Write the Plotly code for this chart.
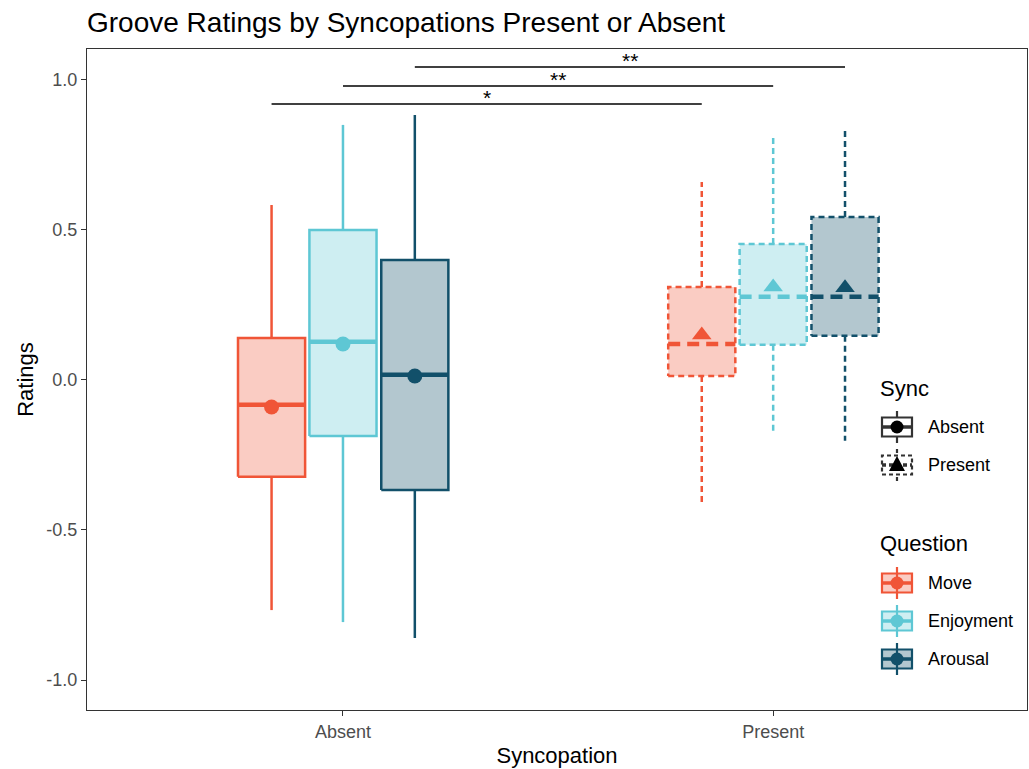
import plotly.graph_objects as go

# ---------------- data ----------------
sync_levels = ["Absent", "Present"]
questions = ["Move", "Enjoyment", "Arousal"]
colors = {"Move": "#F05537", "Enjoyment": "#5EC7D4", "Arousal": "#12506A"}
fills = {"Move": "rgba(240,85,55,0.30)", "Enjoyment": "rgba(94,199,212,0.30)", "Arousal": "rgba(18,80,106,0.32)"}

# stats per sync level, order = questions
lower = {"Absent": [-0.767, -0.807, -0.860], "Present": [-0.417, -0.173, -0.203]}
q1 = {"Absent": [-0.323, -0.187, -0.367], "Present": [0.013, 0.117, 0.147]}
median = {"Absent": [-0.083, 0.127, 0.017], "Present": [0.120, 0.277, 0.277]}
q3 = {"Absent": [0.140, 0.500, 0.400], "Present": [0.310, 0.453, 0.543]}
upper = {"Absent": [0.583, 0.850, 0.883], "Present": [0.660, 0.807, 0.843]}
mean = {"Absent": [-0.090, 0.120, 0.013], "Present": [0.150, 0.310, 0.307]}

# significance brackets: (question, label, y)
sig_question = ["Move", "Enjoyment", "Arousal"]
sig_label = ["*", "**", "**"]
sig_y = [0.920, 0.980, 1.043]

y_ticks = [-1.0, -0.5, 0.0, 0.5, 1.0]
y_ticklabels = ["-1.0", "-0.5", "0.0", "0.5", "1.0"]

# ---------------- layout helpers ----------------
W, H = 1029, 769
ML, MR, MT, MB = 87, 2, 49, 59
PW, PH = W - ML - MR, H - MT - MB

def px(X):
    return (X - ML) / PW

def py(Y):
    return (H - MB - Y) / PH

pos = {"Absent": 1.0, "Present": 2.0}
dodge = {"Move": -0.166, "Enjoyment": 0.0, "Arousal": 0.167}
halfw = 0.078
dash_box = {"Absent": "solid", "Present": "6px,4px"}
dash_med = {"Absent": "solid", "Present": "12px,7px"}
shape_dash = {"Absent": "solid", "Present": "4px,3px"}
symbol = {"Absent": "circle", "Present": "triangle-up"}

fig = go.Figure()

for s in sync_levels:
    for i, q in enumerate(questions):
        cx = pos[s] + dodge[q]
        col = colors[q]
        fig.add_trace(go.Scatter(
            x=[cx, cx, None, cx, cx], y=[q3[s][i], upper[s][i], None, q1[s][i], lower[s][i]],
            mode="lines", line=dict(color=col, width=2.5, dash=dash_box[s]),
            showlegend=False, hoverinfo="skip"))
        fig.add_trace(go.Scatter(
            x=[cx - halfw, cx + halfw, cx + halfw, cx - halfw, cx - halfw],
            y=[q1[s][i], q1[s][i], q3[s][i], q3[s][i], q1[s][i]],
            mode="lines", fill="toself", fillcolor=fills[q],
            line=dict(color=col, width=2.5, dash=dash_box[s]),
            showlegend=False, hoverinfo="skip"))
        fig.add_trace(go.Scatter(
            x=[cx - halfw, cx + halfw], y=[median[s][i], median[s][i]],
            mode="lines", line=dict(color=col, width=4.5, dash=dash_med[s]),
            showlegend=False, hoverinfo="skip"))
        fig.add_trace(go.Scatter(
            x=[cx], y=[mean[s][i]], mode="markers",
            marker=dict(color=col, size=15 if s == "Absent" else 17, symbol=symbol[s]),
            showlegend=False))

# significance brackets
for q, lab, yv in zip(sig_question, sig_label, sig_y):
    x0 = pos["Absent"] + dodge[q]
    x1 = pos["Present"] + dodge[q]
    fig.add_trace(go.Scatter(x=[x0, x1], y=[yv, yv], mode="lines",
                             line=dict(color="black", width=1.5),
                             showlegend=False, hoverinfo="skip"))
    fig.add_annotation(x=(x0 + x1) / 2, y=yv, text=lab, showarrow=False,
                       yanchor="bottom", yshift=-7,
                       font=dict(size=21, color="black", family="Liberation Sans"))

# ---------------- manual legend ----------------
LEG_X = 878           # left of titles
GLYPH_CX = 897        # glyph centre
TEXT_X = 926
legend_font = dict(size=18, color="black", family="Liberation Sans")
title_font = dict(size=22, color="black", family="Liberation Sans")


def legend_glyph(cy, line_col, fill_col, dot_col, dash, sym):
    bw, bh, wl = 15, 9.5, 16
    # whisker
    fig.add_shape(type="line", xref="paper", yref="paper",
                  x0=px(GLYPH_CX), x1=px(GLYPH_CX), y0=py(cy - wl), y1=py(cy + wl),
                  line=dict(color=line_col, width=2.2, dash=dash))
    # box
    fig.add_shape(type="rect", xref="paper", yref="paper",
                  x0=px(GLYPH_CX - bw), x1=px(GLYPH_CX + bw), y0=py(cy + bh), y1=py(cy - bh),
                  line=dict(color=line_col, width=2.2, dash=dash), fillcolor=fill_col)
    # median
    fig.add_shape(type="line", xref="paper", yref="paper",
                  x0=px(GLYPH_CX - bw), x1=px(GLYPH_CX + bw), y0=py(cy), y1=py(cy),
                  line=dict(color=line_col, width=3.5, dash=dash))
    # marker
    r = 6.5
    if sym == "circle":
        fig.add_shape(type="circle", xref="paper", yref="paper",
                      x0=px(GLYPH_CX - r), x1=px(GLYPH_CX + r), y0=py(cy + r), y1=py(cy - r),
                      line=dict(width=0), fillcolor=dot_col)
    else:
        path = "M {} {} L {} {} L {} {} Z".format(
            px(GLYPH_CX - 8), py(cy + 6), px(GLYPH_CX + 8), py(cy + 6), px(GLYPH_CX), py(cy - 9))
        fig.add_shape(type="path", xref="paper", yref="paper", path=path,
                      line=dict(width=0), fillcolor=dot_col)


sync_title_y = 388
sync_item_y = [427, 465]
q_title_y = 543
q_item_y = [583, 621, 659]

fig.add_annotation(xref="paper", yref="paper", x=px(LEG_X), y=py(sync_title_y), text="Sync",
                   showarrow=False, xanchor="left", yanchor="middle", font=title_font)
for s, cy in zip(sync_levels, sync_item_y):
    legend_glyph(cy, "#333333", "white", "black", shape_dash[s], symbol[s])
    fig.add_annotation(xref="paper", yref="paper", x=px(TEXT_X), y=py(cy), text=s,
                       showarrow=False, xanchor="left", yanchor="middle", font=legend_font)

fig.add_annotation(xref="paper", yref="paper", x=px(LEG_X), y=py(q_title_y), text="Question",
                   showarrow=False, xanchor="left", yanchor="middle", font=title_font)
for q, cy in zip(questions, q_item_y):
    legend_glyph(cy, colors[q], fills[q], colors[q], "solid", "circle")
    fig.add_annotation(xref="paper", yref="paper", x=px(TEXT_X), y=py(cy), text=q,
                       showarrow=False, xanchor="left", yanchor="middle", font=legend_font)

fig.update_layout(
    width=W, height=H,
    margin=dict(l=ML, r=MR, t=MT, b=MB),
    paper_bgcolor="white", plot_bgcolor="white",
    font=dict(family="Liberation Sans", color="black"),
    showlegend=False,
    title=dict(text="Groove Ratings by Syncopations Present or Absent",
               x=ML / W, xanchor="left", y=1 - 22 / H, yanchor="middle",
               font=dict(size=28, color="black")),
    xaxis=dict(range=[0.405, 2.59], tickvals=[pos[s] for s in sync_levels], ticktext=sync_levels,
               showgrid=False, zeroline=False, showline=True, mirror=True,
               linecolor="#333333", linewidth=1.2, ticks="outside", ticklen=5,
               tickcolor="#333333", tickfont=dict(size=18, color="#4D4D4D"),
               title=dict(text="Syncopation", font=dict(size=22, color="black"), standoff=6)),
    yaxis=dict(range=[-1.1, 1.103], tickvals=y_ticks, ticktext=y_ticklabels,
               showgrid=False, zeroline=False, showline=True, mirror=True,
               linecolor="#333333", linewidth=1.2, ticks="outside", ticklen=5,
               tickcolor="#333333", tickfont=dict(size=18, color="#4D4D4D"),
               title=dict(text="Ratings", font=dict(size=22, color="black"), standoff=6)),
)

fig.write_html("out.html")
